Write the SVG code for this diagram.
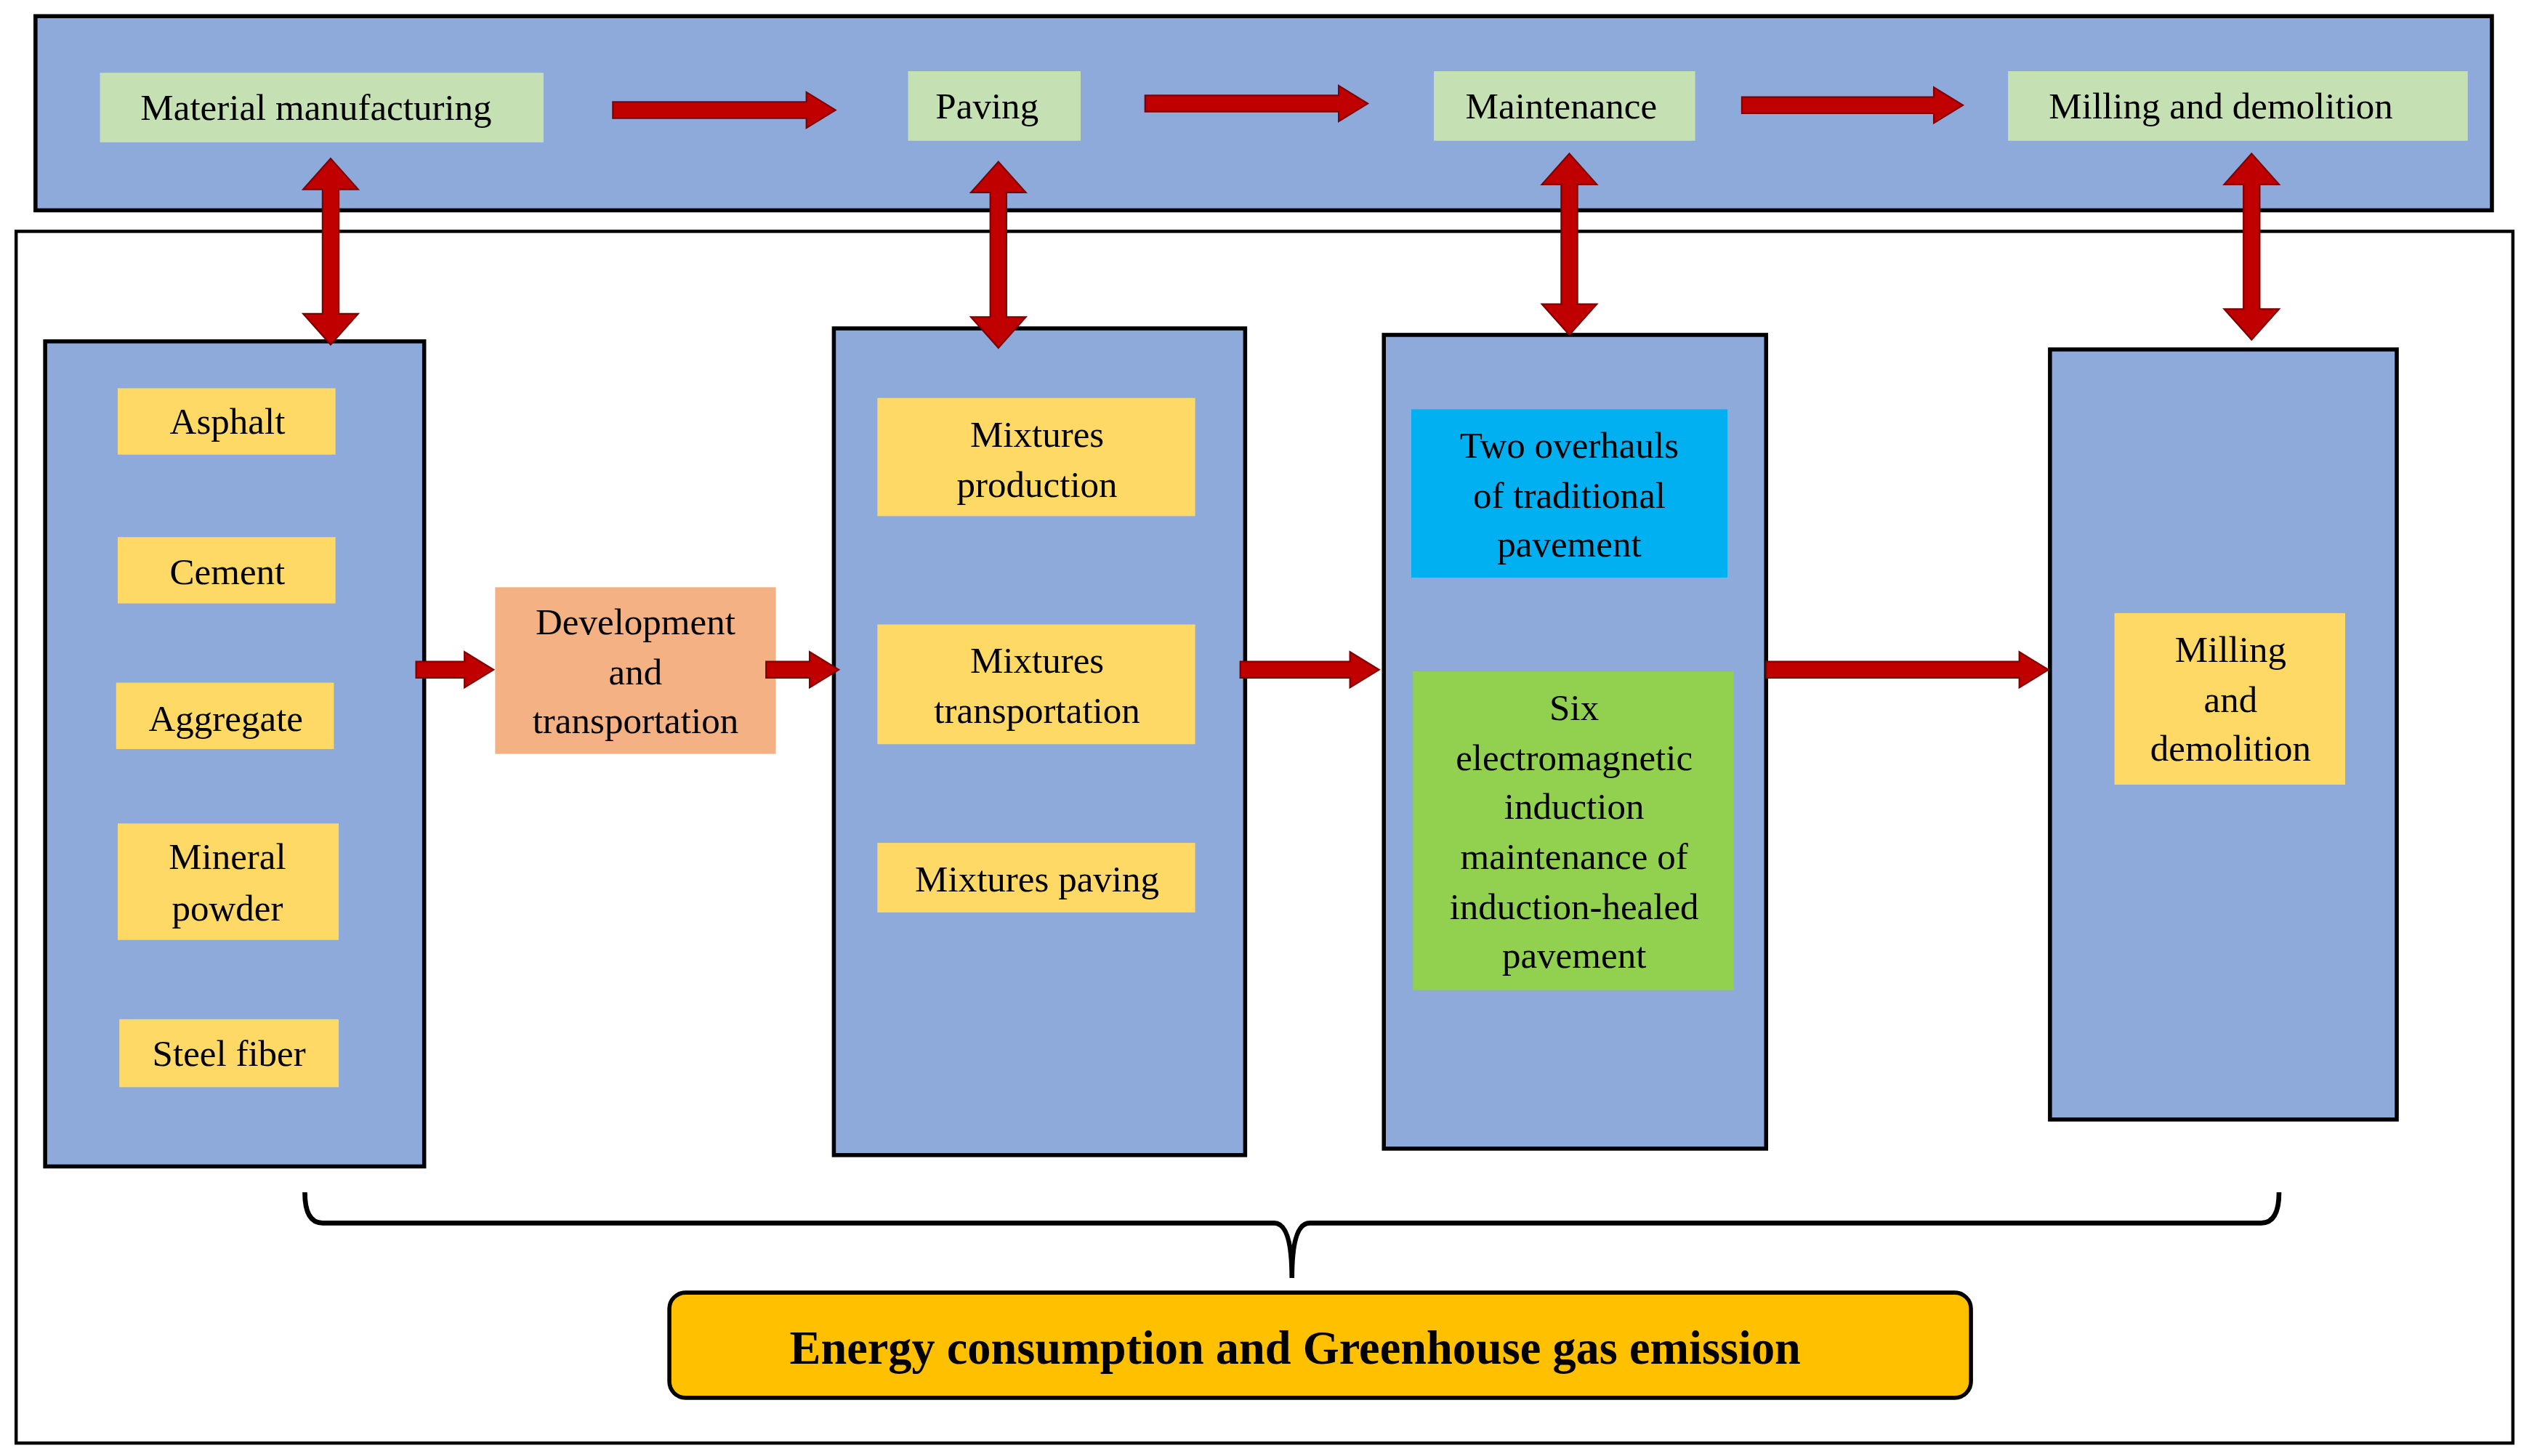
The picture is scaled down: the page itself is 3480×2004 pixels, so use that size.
<svg xmlns="http://www.w3.org/2000/svg" width="3480" height="2004" viewBox="0 0 3480 2004">
<style>
text{font-family:"Liberation Serif","Times New Roman",serif;font-size:23px;fill:#000;text-anchor:middle}
.col{fill:#8eaadb;stroke:#000;stroke-width:2.5}
.y{fill:#ffd966}
.g{fill:#c5e0b3}
.ar{fill:#c00000;stroke:#7f0000;stroke-width:1}
</style>
<rect width="3480" height="2004" fill="#fff"/>
<g transform="scale(2.2194,2.2267)">
<rect x="22" y="10" width="1523" height="120" class="col"/>
<rect x="10" y="143" width="1548" height="749" fill="none" stroke="#000" stroke-width="2"/>
<g id="top1"><rect x="62" y="45" width="275" height="43" class="g"/><text x="196" y="74">Material manufacturing</text></g>
<g id="top2"><rect x="563" y="44" width="107" height="43" class="g"/><text x="612" y="73">Paving</text></g>
<g id="top3"><rect x="889" y="44" width="162" height="43" class="g"/><text x="968" y="73">Maintenance</text></g>
<g id="top4"><rect x="1245" y="44" width="285" height="43" class="g"/><text x="1377" y="73">Milling and demolition</text></g>
<g id="col1"><rect x="28" y="211" width="235" height="510" class="col"/>
<rect x="73" y="240" width="135" height="41" class="y"/><text x="141" y="268">Asphalt</text>
<rect x="73" y="332" width="135" height="41" class="y"/><text x="141" y="361">Cement</text>
<rect x="72" y="422" width="135" height="41" class="y"/><text x="140" y="452">Aggregate</text>
<rect x="73" y="509" width="137" height="72" class="y"/><text x="141" y="537">Mineral</text><text x="141" y="569">powder</text>
<rect x="74" y="630" width="136" height="42" class="y"/><text x="142" y="659">Steel fiber</text></g>
<g id="dev"><rect x="307" y="363" width="174" height="103" fill="#f4b183"/><text x="394" y="392">Development</text><text x="394" y="423">and</text><text x="394" y="453">transportation</text></g>
<g id="col2"><rect x="517" y="203" width="255" height="511" class="col"/>
<rect x="544" y="246" width="197" height="73" class="y"/><text x="643" y="276">Mixtures</text><text x="643" y="307">production</text>
<rect x="544" y="386" width="197" height="74" class="y"/><text x="643" y="416">Mixtures</text><text x="643" y="447">transportation</text>
<rect x="544" y="521" width="197" height="43" class="y"/><text x="643" y="551">Mixtures paving</text></g>
<g id="col3"><rect x="858" y="207" width="237" height="503" class="col"/>
<rect x="875" y="253" width="196" height="104" fill="#00b0f0"/><text x="973" y="283">Two overhauls</text><text x="973" y="314">of traditional</text><text x="973" y="344">pavement</text>
<rect x="876" y="415" width="199" height="197" fill="#92d050"/><text x="976" y="445">Six</text><text x="976" y="476">electromagnetic</text><text x="976" y="506">induction</text><text x="976" y="537">maintenance of</text><text x="976" y="568">induction-healed</text><text x="976" y="598">pavement</text></g>
<g id="col4"><rect x="1271" y="216" width="215" height="476" class="col"/>
<rect x="1311" y="379" width="143" height="106" fill="#ffd966"/><text x="1383" y="409">Milling</text><text x="1383" y="440">and</text><text x="1383" y="470">demolition</text></g>
<g id="result"><rect x="415" y="799" width="807" height="65" rx="10" fill="#ffc000" stroke="#000" stroke-width="2.5"/><text x="803" y="843" style="font-size:29px;font-weight:bold">Energy consumption and Greenhouse gas emission</text></g>
<g id="connectors">
<polygon class="ar" points="380,63 500,63 500,57 518,68 500,79 500,73 380,73"/>
<polygon class="ar" points="710,59 830,59 830,53 848,64 830,75 830,69 710,69"/>
<polygon class="ar" points="1080,60 1199,60 1199,54 1217,65 1199,76 1199,70 1080,70"/>
<polygon class="ar" points="258,409 288,409 288,403 306,414 288,425 288,419 258,419"/>
<polygon class="ar" points="475,409 502,409 502,403 520,414 502,425 502,419 475,419"/>
<polygon class="ar" points="769,409 837,409 837,403 855,414 837,425 837,419 769,419"/>
<polygon class="ar" points="1095,409 1252,409 1252,403 1270,414 1252,425 1252,419 1095,419"/>
<polygon class="ar" points="205,98 222,117 210,117 210,194 222,194 205,213 188,194 200,194 200,117 188,117"/>
<polygon class="ar" points="619,100 636,119 624,119 624,196 636,196 619,215 602,196 614,196 614,119 602,119"/>
<polygon class="ar" points="973,95 990,114 978,114 978,188 990,188 973,207 956,188 968,188 968,114 956,114"/>
<polygon class="ar" points="1396,95 1413,114 1401,114 1401,191 1413,191 1396,210 1379,191 1391,191 1391,114 1379,114"/>
<path d="M189,737 Q189,756 200,756 L790,756 Q801,756 801,790 Q801,756 812,756 L1402,756 Q1413,756 1413,737" fill="none" stroke="#000" stroke-width="3"/>
</g>
</g>
</svg>
